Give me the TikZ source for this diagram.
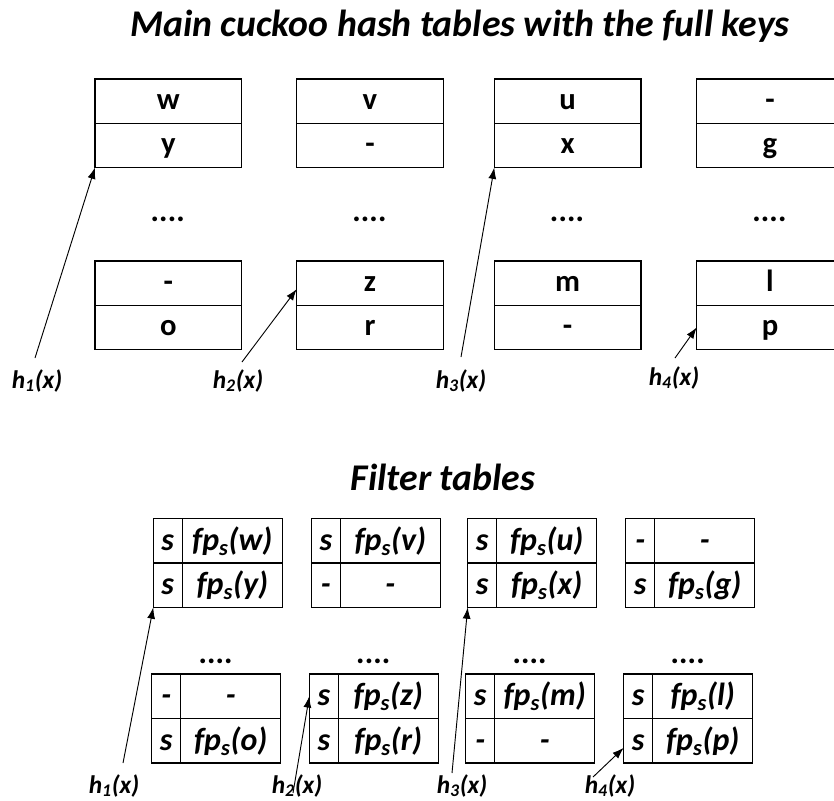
\documentclass[tikz,border=0pt]{standalone}
\usepackage{fontspec}
\setmainfont{Carlito}
\usepackage{tikz}
\usetikzlibrary{arrows.meta,calc}

\newcommand{\fp}[1]{fp\textsubscript{s}(#1)}

\tikzset{
  key/.style={draw, line width=1pt, outer sep=0pt, inner sep=0pt, anchor=north west,
    minimum width=109.9pt, minimum height=33.2pt, text height=13pt, text depth=0.6pt,
    font=\fontsize{23}{27}\selectfont\bfseries},
  sig/.style={draw, line width=1pt, outer sep=0pt, inner sep=0pt, anchor=north west,
    minimum height=33.4pt, text height=14.5pt, text depth=0.3pt,
    font=\fontsize{24}{28}\selectfont\bfseries\itshape},
  hlab/.style={anchor=base, font=\fontsize{19}{23}\selectfont\bfseries\itshape},
  gap/.style={font=\fontsize{24}{28}\selectfont\bfseries\itshape},
  head/.style={anchor=base, font=\fontsize{28.3}{34}\selectfont\bfseries\itshape},
  ptr/.style={-{Latex[length=8.5pt,width=6pt]}, line width=0.7pt}
}

\begin{document}
\begin{tikzpicture}[x=0.75pt,y=-0.75pt]
  \useasboundingbox (0,0) rectangle (834,800);
  \clip (0,0) rectangle (834,800);

  \node[head] (title1) at (460,36) {Main cuckoo hash tables with the full keys};

  % main tables
  \foreach \i/\x/\ka/\kb/\kc/\kd in {1/95/w/y/-/o, 2/296.7/v/-/z/r, 3/494.3/u/x/m/-, 4/696.7/-/g/l/p}{
    \node[key] (m\i a) at (\x,79) {\ka};
    \node[key] (m\i b) at (m\i a.south west) {\kb};
    \node[key] (m\i c) at (\x,261) {\kc};
    \node[key] (m\i d) at (m\i c.south west) {\kd};
    \node[gap] (md\i) at ($(m\i b.south)+(0,52)$) {....};
  }

  \node[hlab] (h1) at (37,388) {h\textsubscript{1}(x)};
  \node[hlab] (h2) at (238,388) {h\textsubscript{2}(x)};
  \node[hlab] (h3) at (461,388) {h\textsubscript{3}(x)};
  \node[hlab] (h4) at (674,385) {h\textsubscript{4}(x)};

  \draw[ptr] ($(h1.base)+(-2,-30)$) -- (m1b.south west);
  \draw[ptr] ($(h2.base)+(4,-26)$) -- ($(m2c.west)+(0,6)$);
  \draw[ptr] ($(h3.base)+(0,-31)$) -- (m3b.south west);
  \draw[ptr] ($(h4.base)+(1,-27)$) -- (m4d.west);

  \node[head] (title2) at (443,490) {Filter tables};

  % filter tables, upper part
  \foreach \i/\x/\ka/\va/\kb/\vb in {1/153.3/s/\fp{w}/s/\fp{y}, 2/311.3/s/\fp{v}/-/-,
      3/467.7/s/\fp{u}/s/\fp{x}, 4/625.7/-/-/s/\fp{g}}{
    \node[sig, minimum width=21.75pt] (f\i a) at (\x,518.3) {\ka};
    \node[sig, minimum width=75pt] (f\i av) at (f\i a.north east) {\va};
    \node[sig, minimum width=21.75pt] (f\i b) at (f\i a.south west) {\kb};
    \node[sig, minimum width=75pt] (f\i bv) at (f\i b.north east) {\vb};
  }

  % filter tables, lower part
  \foreach \i/\x/\ka/\va/\kb/\vb in {1/151.7/-/-/s/\fp{o}, 2/309.3/s/\fp{z}/s/\fp{r},
      3/465.7/s/\fp{m}/-/-, 4/623.7/s/\fp{l}/s/\fp{p}}{
    \node[sig, minimum width=21.75pt] (f\i c) at (\x,674) {\ka};
    \node[sig, minimum width=75pt] (f\i cv) at (f\i c.north east) {\va};
    \node[sig, minimum width=21.75pt] (f\i d) at (f\i c.south west) {\kb};
    \node[sig, minimum width=75pt] (f\i dv) at (f\i d.north east) {\vb};
    \node[gap] (fd\i) at ($(f\i c.north west)!0.5!(f\i cv.north east)+(0,-13)$) {....};
  }

  \node[hlab] (g1) at (114,793) {h\textsubscript{1}(x)};
  \node[hlab] (g2) at (297,793) {h\textsubscript{2}(x)};
  \node[hlab] (g3) at (462,793) {h\textsubscript{3}(x)};
  \node[hlab] (g4) at (610,793) {h\textsubscript{4}(x)};

  \draw[ptr] ($(g1.base)+(9,-30)$) -- (f1b.south west);
  \draw[ptr] ($(g2.base)+(-4,0)$) -- (f2c.west);
  \draw[ptr] ($(g3.base)+(-10,-20)$) -- (f3b.south west);
  \draw[ptr] ($(g4.base)+(-17,-16)$) -- ($(f4d.west)+(0,7)$);
\end{tikzpicture}
\end{document}
